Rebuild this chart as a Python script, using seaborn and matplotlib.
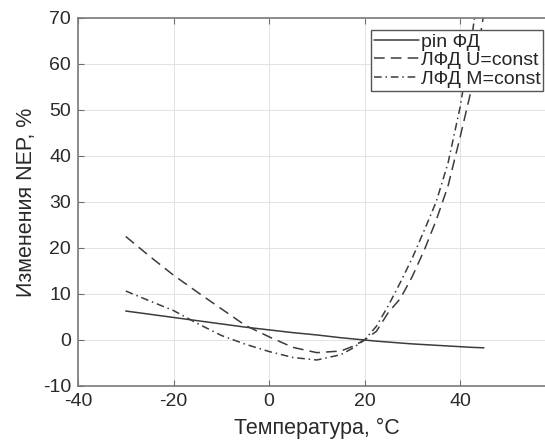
# Recreating the NEP vs temperature chart
import numpy as np
import pandas as pd
import matplotlib
matplotlib.use("Agg")
import matplotlib.pyplot as plt
import seaborn as sns

# Making The Data
temp = [-30, -25, -20, -15, -10, -5, 0, 5, 10, 15, 17.5, 20,
        22.5, 25, 27.5, 30, 32.5, 35, 37.5, 40, 42.5, 45]

pin_fd = [6.3, 5.6, 4.9, 4.2, 3.5, 2.8, 2.2, 1.6, 1.1, 0.5, 0.25, 0.0,
          -0.25, -0.45, -0.65, -0.85, -1.0, -1.15, -1.3, -1.45, -1.6, -1.7]
lfd_u = [22.5, 18.2, 14.1, 10.4, 6.8, 3.2, 0.7, -1.6, -2.75, -2.4, -1.4, 0.0,
         1.9, 6.0, 9.0, 13.8, 19.5, 26.0, 33.5, 44.0, 55.0, 71.0]
lfd_m = [10.65, 8.5, 6.4, 3.6, 1.0, -0.9, -2.5, -3.8, -4.35, -3.2, -1.8, 0.0,
         3.0, 7.5, 12.5, 17.8, 23.8, 30.0, 38.5, 50.5, 66.0, 85.0]

series_names = ["pin ФД", "ЛФД U=const", "ЛФД M=const"]

df = pd.DataFrame({"T": temp, series_names[0]: pin_fd,
                   series_names[1]: lfd_u, series_names[2]: lfd_m})

# Using Style
sns.set_style("whitegrid")
plt.rcParams["font.family"] = ["Liberation Sans", "DejaVu Sans"]
plt.rcParams["axes.unicode_minus"] = False

fig = plt.figure(figsize=(5.45, 4.43), dpi=100)
ax = fig.add_axes([78 / 545, 57 / 443, 477.5 / 545, 368 / 443])

line_color = "#3c3c3c"
dash_styles = [None, (7, 4), (5, 2.5, 1, 2.5)]

# Plotting The Lines
for name, dash in zip(series_names, dash_styles):
    sns.lineplot(data=df, x="T", y=name, ax=ax, color=line_color,
                 linewidth=1.1, label=name)
    if dash is not None:
        ax.lines[-1].set_dashes(dash)

# Limits And Ticks
ax.set_xlim(-40, 60)
ax.set_ylim(-10, 70)
ax.set_xticks(np.arange(-40, 61, 20))
ax.set_yticks(np.arange(-10, 71, 10))
ax.tick_params(direction="in", length=4, width=0.8, color="#6e6e6e",
               labelsize=14, labelcolor="#2a2a2a", top=True, left=True,
               bottom=True, right=False, pad=5)

# Grid And Borders
ax.grid(True, color="#e3e3e3", linewidth=0.7)
for spine in ["left", "bottom", "top", "right"]:
    ax.spines[spine].set_color("#7a7a7a")
    ax.spines[spine].set_linewidth(1.2)

# Labels
ax.set_xlabel("Температура, °C", fontsize=15.5, color="#2a2a2a", labelpad=6)
ax.set_ylabel("Изменения NEP, %", fontsize=15.5, color="#2a2a2a", labelpad=4)

# Legend
leg = ax.legend(loc="upper right",
                bbox_to_anchor=(1 - 12 / 477.5, 1 - 12 / 368),
                borderaxespad=0, fontsize=14, frameon=True, fancybox=False,
                framealpha=1, edgecolor="#555555", handlelength=2.3,
                handletextpad=0.1, labelspacing=0.05, borderpad=0.15)
leg.get_frame().set_linewidth(1.0)

fig.savefig("out.png", dpi=100)
